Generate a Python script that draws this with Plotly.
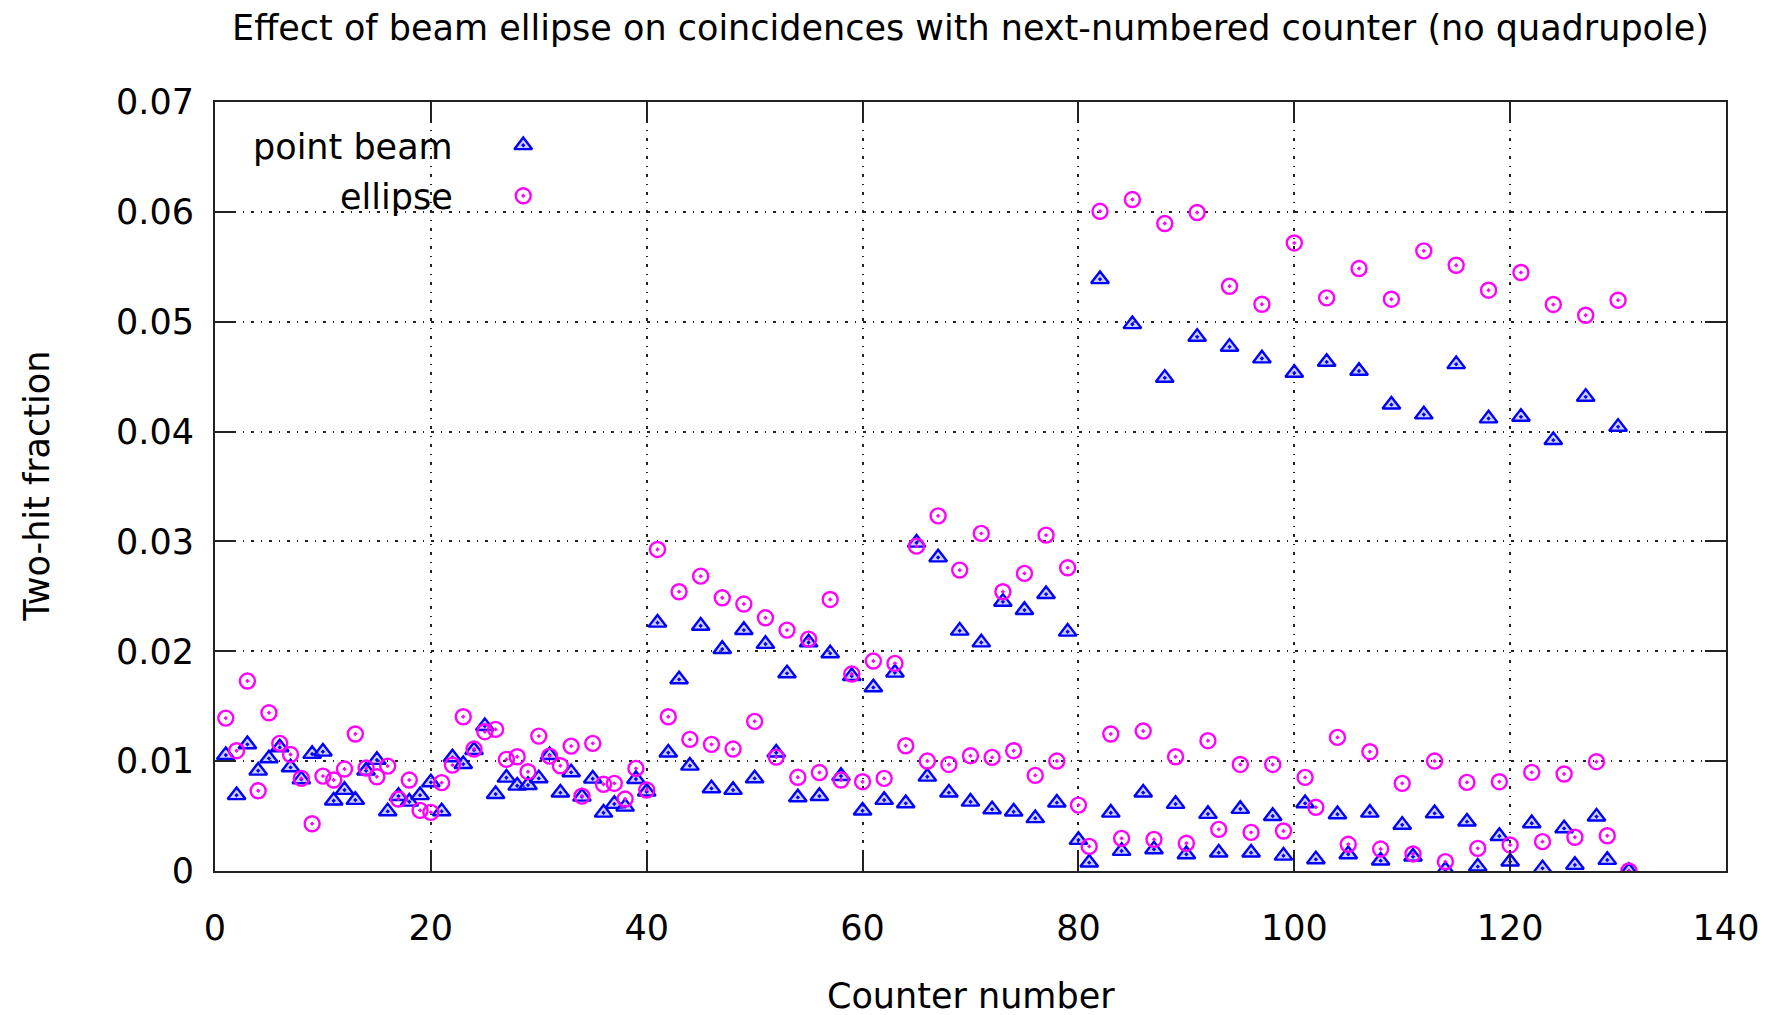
import plotly.graph_objects as go

# Counter numbers 1..131
counters = list(range(1, 132))

# Two-hit fraction, point beam
point_beam = [
    0.01055, 0.0069, 0.01153, 0.00913, 0.01025, 0.01125, 0.00943, 0.00834, 0.01065, 0.01086,
    0.0064, 0.00737, 0.00646, 0.00913, 0.0101, 0.00543, 0.00682, 0.0063, 0.0069, 0.00807,
    0.00543, 0.01034, 0.00973, 0.0110, 0.01319, 0.0070, 0.00849, 0.00776, 0.00782, 0.00843,
    0.01055, 0.00713, 0.00898, 0.00676, 0.0084, 0.0053, 0.0061, 0.00585, 0.00837, 0.00722,
    0.0226, 0.01077, 0.01744, 0.00958, 0.02232, 0.00752, 0.0202, 0.00737, 0.02193, 0.00843,
    0.02066, 0.01077, 0.01799, 0.0067, 0.0208, 0.00682, 0.01981, 0.00864, 0.01774, 0.00549,
    0.01671, 0.00646, 0.01805, 0.00616, 0.02988, 0.00858, 0.02854, 0.00713, 0.02187, 0.0063,
    0.0208, 0.00561, 0.0245, 0.0054, 0.02375, 0.0048, 0.0252, 0.00622, 0.02178, 0.00282,
    0.00076, 0.05387, 0.0053, 0.00182, 0.04977, 0.00713, 0.00197, 0.04489, 0.0061, 0.00152,
    0.04862, 0.00519, 0.00167, 0.04771, 0.00564, 0.00167, 0.04665, 0.005, 0.00139, 0.04534,
    0.00616, 0.00106, 0.04634, 0.00516, 0.00152, 0.04552, 0.0053, 0.00094, 0.04245, 0.0042,
    0.0013, 0.04155, 0.00525, 0.0001, 0.04613, 0.00449, 0.0004, 0.04119, 0.00318, 0.00085,
    0.04134, 0.00434, 0.00024, 0.03922, 0.00388, 0.00055, 0.04316, 0.00495, 0.001, 0.04043,
    0.0,
]

# Two-hit fraction, elliptical beam
ellipse = [
    0.01392, 0.01095, 0.01729, 0.0073, 0.0144, 0.01162, 0.0106, 0.00843, 0.0043, 0.00864,
    0.00828, 0.00928, 0.01247, 0.00937, 0.00858, 0.00955, 0.00655, 0.00828, 0.00552, 0.00534,
    0.00804, 0.00964, 0.01404, 0.0111, 0.01268, 0.01289, 0.01016, 0.0104, 0.00904, 0.01228,
    0.01046, 0.00958, 0.01137, 0.00682, 0.01162, 0.00789, 0.00798, 0.00655, 0.00934, 0.00737,
    0.02927, 0.01404, 0.02542, 0.01198, 0.02684, 0.01153, 0.02487, 0.0111, 0.0243, 0.01362,
    0.02305, 0.01037, 0.02193, 0.00853, 0.02111, 0.00896, 0.02472, 0.00828, 0.01793, 0.00813,
    0.01911, 0.00843, 0.0189, 0.0114, 0.02957, 0.01001, 0.03233, 0.0097, 0.02739, 0.01049,
    0.03073, 0.01034, 0.02542, 0.01095, 0.02709, 0.0087, 0.03057, 0.01001, 0.0276, 0.006,
    0.00224, 0.06005, 0.01247, 0.00297, 0.06112, 0.01274, 0.00288, 0.05894, 0.0104, 0.00252,
    0.05994, 0.01186, 0.00379, 0.05323, 0.0097, 0.00352, 0.05159, 0.0097, 0.00364, 0.05717,
    0.00852, 0.0058, 0.05217, 0.01216, 0.00243, 0.05484, 0.01086, 0.002, 0.05205, 0.00798,
    0.00155, 0.05645, 0.01001, 0.00085, 0.05514, 0.00807, 0.00206, 0.05287, 0.00813, 0.00237,
    0.05448, 0.00898, 0.00267, 0.05157, 0.00883, 0.00307, 0.05059, 0.00995, 0.00321, 0.05196,
    0.0,
]

series_names = ["point beam", "ellipse"]
x_ticks = [0, 20, 40, 60, 80, 100, 120, 140]
y_ticks = [0, 0.01, 0.02, 0.03, 0.04, 0.05, 0.06, 0.07]

FONT = "DejaVu Sans"
BLUE = "#0000ff"
MAGENTA = "#ff00ff"
TRI = dict(symbol="triangle-up-dot", size=15.5, color="rgba(150,150,255,0.45)",
           line=dict(width=2.4, color=BLUE))
CIR = dict(symbol="circle-open-dot", size=15, color=MAGENTA, line=dict(width=2.4, color=MAGENTA))

fig = go.Figure()
fig.add_trace(go.Scatter(x=counters, y=point_beam, mode="markers", marker=TRI,
                         name=series_names[0], showlegend=False))
fig.add_trace(go.Scatter(x=counters, y=ellipse, mode="markers", marker=CIR,
                         name=series_names[1], showlegend=False))

# key symbols on a hidden unit-square overlay
key_x = 0.204
key_y = [0.9437, 0.878]
fig.add_trace(go.Scatter(x=[key_x], y=[key_y[0]], mode="markers", marker=TRI,
                         xaxis="x2", yaxis="y2", showlegend=False, hoverinfo="skip"))
fig.add_trace(go.Scatter(x=[key_x], y=[key_y[1]], mode="markers", marker=CIR,
                         xaxis="x2", yaxis="y2", showlegend=False, hoverinfo="skip"))

grid_dash = "3px,7px,1px,7px"
axis_common = dict(
    showline=True, linecolor="#222", linewidth=2, mirror="ticks",
    ticks="inside", ticklen=21, tickwidth=1.5, tickcolor="#222",
    showgrid=True, gridcolor="#222", gridwidth=1.6, griddash=grid_dash,
    zeroline=False, tickfont=dict(family=FONT, size=35, color="black"),
)

fig.update_layout(
    width=1772, height=1015,
    margin=dict(l=215, r=46, t=102, b=144),
    paper_bgcolor="white", plot_bgcolor="white",
    font=dict(family=FONT, color="black"),
    title=dict(text="Effect of beam ellipse on coincidences with next-numbered counter (no quadrupole)",
               x=0.5, xref="paper", xanchor="center", y=1 - 28 / 1015, yanchor="middle",
               font=dict(family=FONT, size=35, color="black")),
    xaxis=dict(range=[0, 140], tickvals=x_ticks, ticktext=[str(v) for v in x_ticks],
               ticklabelstandoff=25, **axis_common),
    yaxis=dict(range=[0, 0.07], tickvals=y_ticks,
               ticktext=["0" if v == 0 else f"{v:.2f}" for v in y_ticks],
               ticklabelstandoff=12, **axis_common),
    xaxis2=dict(range=[0, 1], overlaying="x", visible=False, anchor="y2"),
    yaxis2=dict(range=[0, 1], overlaying="y", visible=False, anchor="x2"),
    showlegend=False,
)

# opaque key box over the grid
fig.add_shape(type="rect", xref="paper", yref="paper", x0=0, x1=0.25, y0=0.80, y1=1,
              fillcolor="white", line=dict(width=0), layer="between")

for name, yk in zip(series_names, [0.9415, 0.876]):
    fig.add_annotation(text=name, xref="paper", yref="paper", x=0.159, y=yk,
                       xanchor="right", yanchor="middle", showarrow=False,
                       font=dict(family=FONT, size=35, color="black"))

fig.add_annotation(text="Counter number", xref="paper", yref="paper", x=0.5, y=-0.1625,
                   xanchor="center", yanchor="middle", showarrow=False,
                   font=dict(family=FONT, size=35, color="black"))
fig.add_annotation(text="Two-hit fraction", xref="paper", yref="paper", x=-0.1183, y=0.5,
                   xanchor="center", yanchor="middle", textangle=-90, showarrow=False,
                   font=dict(family=FONT, size=35, color="black"))

fig.write_html("out.html")
